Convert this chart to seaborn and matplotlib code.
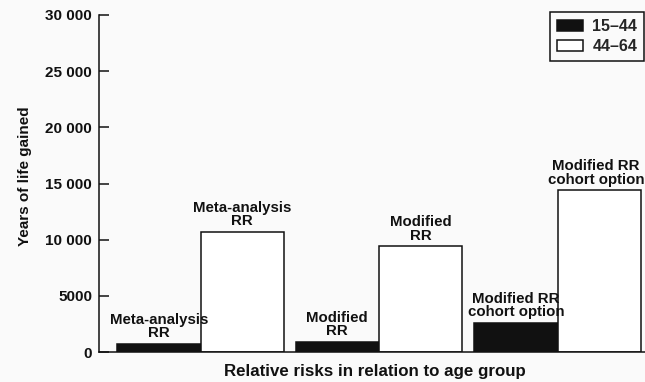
import matplotlib
matplotlib.use("Agg")
import matplotlib.pyplot as plt
import seaborn as sns
import pandas as pd

# Scenarios (x groups) and the two age groups (hue)
scenarios = ["Meta-analysis RR", "Modified RR", "Modified RR cohort option"]
age_groups = ["15\u201344", "44\u201364"]
years_15_44 = [750, 900, 2600]
years_44_64 = [10700, 9400, 14400]
bar_labels = ["Meta-analysis\nRR", "Modified\nRR", "Modified RR\ncohort option"]
ytick_values = [0, 5000, 10000, 15000, 20000, 25000, 30000]
ytick_labels = ["0", "5000", "10 000", "15 000", "20 000", "25 000", "30 000"]

df = pd.DataFrame({
    "scenario": scenarios * 2,
    "age": [age_groups[0]] * 3 + [age_groups[1]] * 3,
    "years": years_15_44 + years_44_64,
})

sns.set_style("white")
bg = "#fafafa"
plt.rcParams["font.family"] = ["Liberation Sans", "DejaVu Sans"]
plt.rcParams["font.weight"] = "bold"

W, H = 645, 382
fig = plt.figure(figsize=(W / 100, H / 100), dpi=100, facecolor=bg)
ax_left, ax_right, ax_bottom, ax_top = 99, 660, 352, 15
ax = fig.add_axes([ax_left / W, 1 - ax_bottom / H,
                   (ax_right - ax_left) / W, (ax_bottom - ax_top) / H])
ax.set_facecolor(bg)

sns.barplot(data=df, x="scenario", y="years", hue="age", hue_order=age_groups,
            palette=["#111111", "#ffffff"], edgecolor="#111111", linewidth=1.1,
            width=0.935, saturation=1, ax=ax, errorbar=None)

unit = 178.5
center0 = 200.5
ax.set_xlim((ax_left - center0) / unit, (ax_right - center0) / unit)
ax.set_ylim(0, 30000)

# scenario names written on top of each bar
annotations = []
for container in ax.containers:
    for bar, label in zip(container, bar_labels):
        a = ax.annotate(label, (bar.get_x() + bar.get_width() / 2, bar.get_height()),
                        xytext=(0, 2.5), textcoords="offset points",
                        ha="center", va="bottom", fontsize=10.8, fontweight="bold",
                        linespacing=0.95, color="#111111", annotation_clip=False)
        annotations.append(a)

# keep labels near the right edge inside the canvas
fig.canvas.draw()
renderer = fig.canvas.get_renderer()
for a in annotations:
    ext = a.get_window_extent(renderer)
    overflow = ext.x1 - (W - 1)
    if overflow > 0:
        a.set_position((-overflow * 72 / fig.dpi, 2.5))

ax.set_xticks([])
ax.set_yticks(ytick_values)
ax.set_yticklabels(ytick_labels, fontsize=11, fontweight="bold", color="#111111")
ax.tick_params(axis="y", direction="in", length=7.5, width=1.1, pad=5, left=True,
               color="#111111")

for s in ["top", "right"]:
    ax.spines[s].set_visible(False)
for s in ["left", "bottom"]:
    ax.spines[s].set_color("#111111")
    ax.spines[s].set_linewidth(1.1)

ax.set_ylabel("Years of life gained", fontsize=11, fontweight="bold", color="#111111")
ax.yaxis.set_label_coords((32 - ax_left) / (ax_right - ax_left), 0.522)
ax.set_xlabel("Relative risks in relation to age group", fontsize=12.2,
              fontweight="bold", color="#111111")
ax.xaxis.set_label_coords((375 - ax_left) / (ax_right - ax_left),
                          -(364 - ax_bottom) / (ax_bottom - ax_top))

sns.move_legend(ax, loc="upper left", bbox_to_anchor=(550 / W, 1 - 12 / H),
                bbox_transform=fig.transFigure, title=None, frameon=True,
                fancybox=False, framealpha=1, facecolor=bg, edgecolor="#111111",
                fontsize=11.5, handlelength=1.6, handleheight=0.65,
                handletextpad=0.6, labelspacing=0.3, borderpad=0.45,
                borderaxespad=0)
leg = ax.get_legend()
leg.get_frame().set_linewidth(1.1)
for t in leg.get_texts():
    t.set_fontweight("bold")

fig.savefig("out.png", dpi=100, facecolor=bg)
